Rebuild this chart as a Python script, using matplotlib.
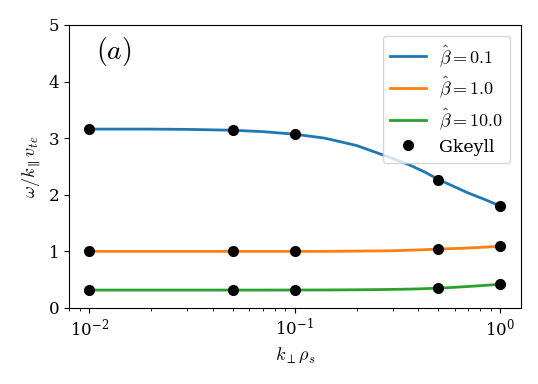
import numpy as np
import matplotlib.pyplot as plt

plt.rcParams['font.family'] = 'serif'
plt.rcParams['mathtext.fontset'] = 'cm'

# Curves (k_perp rho_s vs omega / k_par v_te)
k_line = [0.01, 0.02, 0.03, 0.05, 0.07, 0.1, 0.14, 0.2, 0.29, 0.36, 0.43,
          0.5, 0.6, 0.7, 0.85, 1.0]
w_beta01 = [3.16, 3.16, 3.155, 3.14, 3.115, 3.07, 3.00, 2.87, 2.66, 2.53, 2.40,
            2.27, 2.14, 2.03, 1.91, 1.80]
w_beta1 = [1.00, 1.00, 1.00, 1.00, 1.00, 1.00, 1.00, 1.005, 1.01, 1.02, 1.03,
           1.04, 1.05, 1.06, 1.075, 1.09]
w_beta10 = [0.316, 0.316, 0.316, 0.316, 0.316, 0.317, 0.318, 0.321, 0.327, 0.333, 0.341,
            0.35, 0.365, 0.38, 0.40, 0.42]

# Gkeyll simulation points
k_gk = [0.01, 0.05, 0.1, 0.5, 1.0]
w_gk = [[3.16, 3.14, 3.07, 2.26, 1.80],
        [1.00, 1.00, 1.00, 1.04, 1.09],
        [0.316, 0.316, 0.316, 0.35, 0.42]]

fig = plt.figure(figsize=(5.38, 3.84), dpi=100)
ax = fig.add_axes([0.128, 0.198, 0.84, 0.737])

ax.semilogx(k_line, w_beta01, lw=2, color='C0', label=r'$\hat{\beta}=0.1$')
ax.semilogx(k_line, w_beta1, lw=2, color='C1', label=r'$\hat{\beta}=1.0$')
ax.semilogx(k_line, w_beta10, lw=2, color='C2', label=r'$\hat{\beta}=10.0$')
for i, w in enumerate(w_gk):
    ax.plot(k_gk, w, 'ko', ms=7, label='Gkeyll' if i == 0 else None)

ax.set_ylim(0, 5)
ax.set_xlabel(r'$k_\perp \rho_s$', fontsize=13)
ax.set_ylabel(r'$\omega/k_\parallel v_{te}$', fontsize=13)
ax.tick_params(labelsize=12)
ax.text(0.06, 0.905, r'$(a)$', transform=ax.transAxes, fontsize=20, va='center')
leg = ax.legend(fontsize=13, loc='upper right', handlelength=2.0, handletextpad=0.7,
                labelspacing=0.35, borderaxespad=0.6)
leg.get_texts()[3].set_fontsize(12.5)

fig.savefig('out.png', dpi=100)
